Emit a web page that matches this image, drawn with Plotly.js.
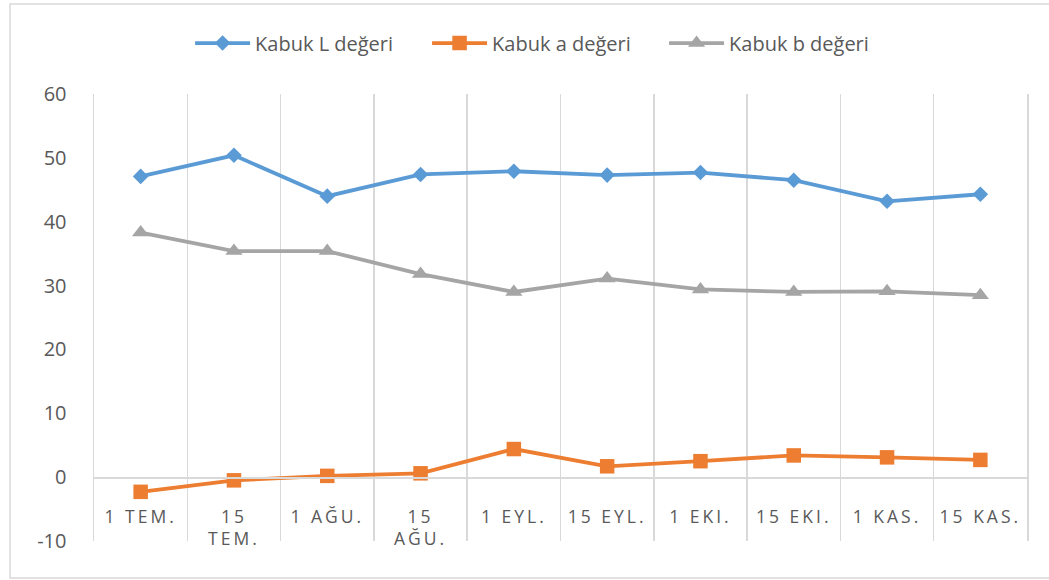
<!DOCTYPE html>
<html>
<head>
<meta charset="utf-8">
<script src="https://cdn.plot.ly/plotly-3.0.1.min.js"></script>
<style>
  html, body { margin: 0; padding: 0; background: #ffffff; }
  #chart { width: 1049px; height: 580px; }
</style>
</head>
<body>
<div id="chart"></div>
<script>
// ---- data ----
const categories = ["1 TEM.", "15 TEM.", "1 AĞU.", "15 AĞU.", "1 EYL.", "15 EYL.", "1 EKI.", "15 EKI.", "1 KAS.", "15 KAS."];
const tickLabels = ["1 TEM.", "15<br>TEM.", "1 AĞU.", "15<br>AĞU.", "1 EYL.", "15 EYL.", "1 EKI.", "15 EKI.", "1 KAS.", "15 KAS."];
const kabukL = [47.1, 50.4, 44.0, 47.4, 47.9, 47.3, 47.7, 46.5, 43.2, 44.3];
const kabukA = [-2.3, -0.5, 0.2, 0.6, 4.4, 1.7, 2.5, 3.4, 3.1, 2.7];
const kabukB = [38.3, 35.4, 35.4, 31.8, 29.0, 31.1, 29.4, 29.0, 29.1, 28.5];
const seriesNames = ["Kabuk L değeri", "Kabuk a değeri", "Kabuk b değeri"];
const yTicks = [-10, 0, 10, 20, 30, 40, 50, 60];
const yTickText = ["-10", "0", "10", "20", "30", "40", "50", "60"];

const FONT = "'Open Sans', 'Noto Sans', 'DejaVu Sans', sans-serif";
const TXT = "#595959";

const traces = [
  {
    x: categories, y: kabukL, name: seriesNames[0], type: "scatter", mode: "lines+markers",
    line: { color: "#5B9BD5", width: 3.8 },
    marker: { symbol: "diamond", size: 12, color: "#5B9BD5" }
  },
  {
    x: categories, y: kabukA, name: seriesNames[1], type: "scatter", mode: "lines+markers",
    line: { color: "#ED7D31", width: 3.8 },
    marker: { symbol: "square", size: 14.5, color: "#ED7D31" }
  },
  {
    x: categories, y: kabukB, name: seriesNames[2], type: "scatter", mode: "lines+markers",
    line: { color: "#A5A5A5", width: 3.8 },
    marker: { symbol: "triangle-up", size: 15, color: "#A5A5A5" }
  }
];

const layout = {
  width: 1049, height: 580,
  margin: { l: 94, r: 22, t: 94, b: 39 },
  paper_bgcolor: "#ffffff", plot_bgcolor: "#ffffff",
  font: { family: FONT, color: TXT, size: 17 },
  showlegend: true,
  legend: {
    orientation: "h", x: 0.484, xanchor: "center", y: 1.114, yanchor: "middle",
    font: { family: FONT, size: 20, color: TXT },
    itemwidth: 55, entrywidth: 167, traceorder: "normal"
  },
  xaxis: {
    type: "category",
    categoryorder: "array", categoryarray: categories,
    tickvals: categories, ticktext: tickLabels,
    range: [-0.5, categories.length - 0.5],
    tickson: "boundaries",
    showgrid: true, gridcolor: "#d9d9d9", gridwidth: 1.5,
    showline: true, linecolor: "#d9d9d9", linewidth: 1.5,
    ticks: "", ticklen: 0,
    anchor: "free", position: 10 / 70,
    ticklabelstandoff: 23,
    tickfont: { family: FONT, size: 17.5, color: TXT },
    zeroline: false, fixedrange: true
  },
  yaxis: {
    range: [-10, 60],
    tickvals: yTicks, ticktext: yTickText,
    showgrid: false, zeroline: false,
    showline: true, mirror: true, linecolor: "#d9d9d9", linewidth: 1.5,
    ticks: "", ticklabelstandoff: 22,
    tickfont: { family: FONT, size: 20, color: TXT },
    fixedrange: true
  },
  shapes: [
    {
      type: "rect", xref: "paper", yref: "paper",
      x0: (10 - 94) / 933, x1: (1060 - 94) / 933,
      y0: (541 - 578) / 447, y1: (541 - 4) / 447,
      line: { color: "#d9d9d9", width: 1.5 }, fillcolor: "rgba(0,0,0,0)", layer: "below"
    }
  ]
};

Plotly.newPlot("chart", traces, layout, { displayModeBar: false, staticPlot: true }).then(function (gd) {
  gd.querySelectorAll(".xtick text, .xtick text tspan").forEach(function (t) {
    t.setAttribute("letter-spacing", "3px");
  });
});
</script>
</body>
</html>
